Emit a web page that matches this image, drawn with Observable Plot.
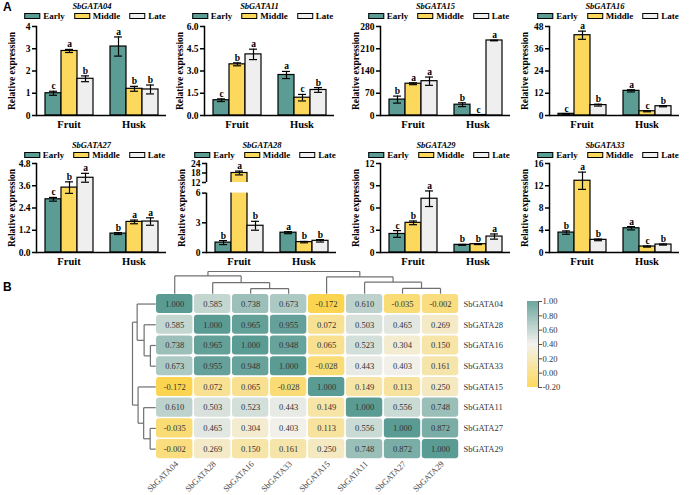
<!DOCTYPE html>
<html><head><meta charset="utf-8">
<script src="https://cdn.jsdelivr.net/npm/d3@7"></script>
<script src="https://cdn.jsdelivr.net/npm/@observablehq/plot@0.6"></script>
<style>
body{margin:0;background:#fff;}
#fig{position:relative;width:692px;height:495px;overflow:hidden;font-family:"Liberation Serif",serif;color:#000;}
.title{position:absolute;transform:translate(-50%,-50%);font-weight:bold;font-style:italic;font-size:8.5px;line-height:9px;white-space:nowrap;}
.legend{position:absolute;transform:translate(-50%,-50%);display:flex;align-items:center;font-weight:bold;font-size:9px;line-height:10px;white-space:nowrap;}
.sw{display:inline-block;width:14px;height:4px;border:1.3px solid #000;margin-right:3px;}
.lab{margin-right:9px;}
.lab:last-child{margin-right:0;}
.tag{position:absolute;font-family:"Liberation Sans",Arial,sans-serif;font-weight:bold;font-size:12px;}
svg{overflow:visible;}
</style>
</head><body><div id="fig"></div>
<script>
// ---------- data ----------
const tissues = ["Fruit", "Husk"];
const stages = ["Early", "Middle", "Late"];
const stageColors = ["#5b9d95", "#fcd95d", "#efefef"];

const gata04Values = [1.0, 2.9, 1.65, 3.1, 1.2, 1.17];
const gata04Errors = [0.09, 0.07, 0.13, 0.43, 0.11, 0.2];
const gata04Letters = ["c", "a", "b", "a", "b", "b"];
const gata04Ticks = [0, 1, 2, 3, 4];

const gata11Values = [1.03, 3.45, 4.12, 2.73, 1.2, 1.72];
const gata11Errors = [0.09, 0.1, 0.35, 0.24, 0.22, 0.16];
const gata11Letters = ["c", "b", "a", "a", "c", "b"];
const gata11Ticks = [0, 1.5, 3, 4.5, 6];

const gata15Values = [50, 100, 108, 34, 1.5, 236];
const gata15Errors = [11, 3, 13, 6, 0.5, 1];
const gata15Letters = ["b", "a", "a", "b", "c", "a"];
const gata15Ticks = [0, 70, 140, 210, 280];

const gata16Values = [0.9, 43.3, 5.6, 13.3, 2.3, 5.0];
const gata16Errors = [0.15, 2.2, 0.5, 0.6, 0.3, 0.3];
const gata16Letters = ["c", "a", "b", "a", "c", "b"];
const gata16Ticks = [0, 12, 24, 36, 48];

const gata27Values = [2.87, 3.5, 4.03, 1.02, 1.65, 1.67];
const gata27Errors = [0.1, 0.31, 0.24, 0.05, 0.1, 0.2];
const gata27Letters = ["c", "b", "a", "b", "a", "a"];
const gata27Ticks = [0, 1.2, 2.4, 3.6, 4.8];

const gata28Values = [1.0, 18, 2.7, 2.0, 1.05, 1.18];
const gata28Errors = [0.2, 1.2, 0.45, 0.1, 0.07, 0.12];
const gata28Letters = ["b", "a", "b", "a", "b", "b"];
const gata28Ticks = [0, 3, 6, 12, 18, 24];
const gata28Break = [6, 12];

const gata29Values = [2.5, 4.0, 7.25, 1.03, 1.12, 2.15];
const gata29Errors = [0.45, 0.25, 1.05, 0.06, 0.05, 0.35];
const gata29Letters = ["c", "b", "a", "b", "b", "a"];
const gata29Ticks = [0, 3, 6, 9, 12];

const gata33Values = [3.58, 12.9, 2.27, 4.36, 1.07, 1.43];
const gata33Errors = [0.3, 1.55, 0.15, 0.3, 0.1, 0.1];
const gata33Letters = ["b", "a", "b", "a", "c", "b"];
const gata33Ticks = [0, 4, 8, 12, 16];

// correlation heatmap
const genes = ["SbGATA04", "SbGATA28", "SbGATA16", "SbGATA33", "SbGATA15", "SbGATA11", "SbGATA27", "SbGATA29"];
const r04 = [1.000, 0.585, 0.738, 0.673, -0.172, 0.610, -0.035, -0.002];
const r28 = [0.585, 1.000, 0.965, 0.955, 0.072, 0.503, 0.465, 0.269];
const r16 = [0.738, 0.965, 1.000, 0.948, 0.065, 0.523, 0.304, 0.150];
const r33 = [0.673, 0.955, 0.948, 1.000, -0.028, 0.443, 0.403, 0.161];
const r15 = [-0.172, 0.072, 0.065, -0.028, 1.000, 0.149, 0.113, 0.250];
const r11 = [0.610, 0.503, 0.523, 0.443, 0.149, 1.000, 0.556, 0.748];
const r27 = [-0.035, 0.465, 0.304, 0.403, 0.113, 0.556, 1.000, 0.872];
const r29 = [-0.002, 0.269, 0.150, 0.161, 0.250, 0.748, 0.872, 1.000];
const corrMatrix = [r04, r28, r16, r33, r15, r11, r27, r29];
// hierarchical clustering: [left, right, merge height]
const dendroTree = [["SbGATA04", ["SbGATA28", ["SbGATA16", "SbGATA33", 0.23], 0.5], 0.8],
                    ["SbGATA15", ["SbGATA11", ["SbGATA27", "SbGATA29", 0.24], 0.52], 0.76], 1];
const heatDomain = [-0.2, 0.4, 1.0];
const heatColors = ["#fdd448", "#f2f0eb", "#5a9b93"];
const colorbarTicks = [-0.2, 0, 0.2, 0.4, 0.6, 0.8, 1.0];

// ---------- layout ----------
const fig = document.getElementById("fig");
function place(el, left, top) {
  el.style.position = "absolute"; el.style.left = left + "px"; el.style.top = top + "px";
  fig.appendChild(el); return el;
}
const fmt1 = d => d.toFixed(1);
const fmt0 = d => String(d);
const panels = [
  {gene: "SbGATA04", v: gata04Values, e: gata04Errors, l: gata04Letters, t: gata04Ticks, f: fmt0, ax: 36, row: 0},
  {gene: "SbGATA11", v: gata11Values, e: gata11Errors, l: gata11Letters, t: gata11Ticks, f: fmt1, ax: 203.5, row: 0},
  {gene: "SbGATA15", v: gata15Values, e: gata15Errors, l: gata15Letters, t: gata15Ticks, f: fmt0, ax: 379.5, row: 0},
  {gene: "SbGATA16", v: gata16Values, e: gata16Errors, l: gata16Letters, t: gata16Ticks, f: fmt0, ax: 549, row: 0},
  {gene: "SbGATA27", v: gata27Values, e: gata27Errors, l: gata27Letters, t: gata27Ticks, f: fmt1, ax: 35.5, row: 1},
  {gene: "SbGATA28", v: gata28Values, e: gata28Errors, l: gata28Letters, t: gata28Ticks, f: fmt0, ax: 206, row: 1, brk: gata28Break},
  {gene: "SbGATA29", v: gata29Values, e: gata29Errors, l: gata29Letters, t: gata29Ticks, f: fmt0, ax: 380, row: 1},
  {gene: "SbGATA33", v: gata33Values, e: gata33Errors, l: gata33Letters, t: gata33Ticks, f: fmt0, ax: 549, row: 1}
];
const rowFrameTop = [26, 163.3];
const rowTitleY = [5.5, 145];
const rowLegendY = [16, 155];

const H = 89, MT = 14, MB = 20, ML = 36, MR = 6, W = 130;

function barPanel(p) {
  const data = tissues.flatMap((t, ti) => stages.map((s, si) => ({
    tissue: t, stage: s, value: p.v[ti * 3 + si], err: p.e[ti * 3 + si], letter: p.l[ti * 3 + si]
  })));
  const top = p.t[p.t.length - 1];
  const y = p.brk
    ? {type: "linear", domain: [0, p.brk[0], p.brk[1], top], range: [MT + H, MT + H - 59.4, MT + H - 70, MT]}
    : {domain: [0, top]};
  const marks = [
    Plot.barY(data, {fx: "tissue", x: "stage", y: "value", fill: "stage", stroke: "#000", strokeWidth: 1.2}),
    Plot.ruleX(data, {fx: "tissue", x: "stage", y1: d => d.value - d.err, y2: d => d.value + d.err, stroke: "#000", strokeWidth: 1.2}),
    Plot.tickY(data, {fx: "tissue", x: "stage", y: d => d.value + d.err, insetLeft: 4, insetRight: 4, stroke: "#000", strokeWidth: 1.2}),
    Plot.tickY(data, {fx: "tissue", x: "stage", y: d => d.value - d.err, insetLeft: 4, insetRight: 4, stroke: "#000", strokeWidth: 1.2}),
    Plot.text(data, {fx: "tissue", x: "stage", y: d => d.value + d.err, text: "letter", lineAnchor: "bottom", dy: -2, fontSize: 9.5}),
    Plot.ruleY([0], {strokeWidth: 1.5}),
    Plot.frame({anchor: "left", facetAnchor: "left", strokeWidth: 1.5})
  ];
  if (p.brk) marks.push(Plot.rect([p.brk], {y1: d => d[0], y2: d => d[1], fill: "#fff", insetLeft: -3, facetAnchor: "left"}));
  marks.push(
    Plot.axisY({ticks: p.t, tickFormat: p.f, tickSize: 4, tickPadding: 2, strokeWidth: 1.5, fontSize: 9.5,
      label: "Relative expression", labelAnchor: "center", labelOffset: 28, labelArrow: false}),
    Plot.axisFx({anchor: "bottom", tickSize: 0, tickPadding: 5, fontSize: 10.5, label: null})
  );
  return Plot.plot({
    width: ML + W + MR, height: MT + H + MB,
    marginLeft: ML, marginRight: MR, marginTop: MT, marginBottom: MB,
    style: {fontFamily: "Liberation Serif", fontWeight: "bold", fontSize: "10px", background: "transparent", color: "#000"},
    fx: {domain: tissues, padding: 0},
    x: {domain: stages, paddingInner: 0, paddingOuter: 0.45, axis: null},
    y,
    color: {domain: stages, range: stageColors},
    marks
  });
}

for (const p of panels) {
  const svg = barPanel(p);
  place(svg, p.ax - ML, rowFrameTop[p.row] - MT);
  const t = document.createElement("div");
  t.className = "title"; t.textContent = p.gene;
  place(t, p.ax + 56, rowTitleY[p.row]);
  const lg = document.createElement("div");
  lg.className = "legend";
  stages.forEach((s, i) => {
    const sw = document.createElement("span"); sw.className = "sw"; sw.style.background = stageColors[i];
    const lb = document.createElement("span"); lb.className = "lab"; lb.textContent = s;
    lg.appendChild(sw); lg.appendChild(lb);
  });
  place(lg, p.ax + 59, rowLegendY[p.row]);
}

// ---------- heatmap ----------
const n = genes.length;
const TOP = 1.07, LEFT = 0.612;
const cells = genes.flatMap((g, r) => corrMatrix[r].map((v, c) => ({row: r, col: c, value: v})));
function layoutTree(node, segs) {
  if (typeof node === "string") return {pos: genes.indexOf(node) + 0.5, h: 0};
  const [a, b, h] = node;
  const A = layoutTree(a, segs), B = layoutTree(b, segs);
  segs.push({p1: A.pos, h1: A.h, p2: A.pos, h2: h});
  segs.push({p1: B.pos, h1: B.h, p2: B.pos, h2: h});
  segs.push({p1: A.pos, h1: h, p2: B.pos, h2: h});
  return {pos: (A.pos + B.pos) / 2, h};
}
const segs = [];
layoutTree(dendroTree, segs);

const heat = Plot.plot({
  width: 510, height: 233, marginLeft: 132, marginRight: 51, marginTop: 9, marginBottom: 36,
  x: {domain: [-LEFT, n], axis: null},
  y: {domain: [-TOP, n], reverse: true, axis: null},
  color: {type: "linear", domain: heatDomain, range: heatColors},
  style: {fontFamily: "Liberation Serif", background: "transparent"},
  marks: [
    Plot.rect(cells, {x1: "col", x2: d => d.col + 1, y1: "row", y2: d => d.row + 1, fill: "value", inset: 0.8, rx: 3}),
    Plot.text(cells, {x: d => d.col + 0.5, y: d => d.row + 0.5, text: d => d.value.toFixed(3), fontSize: 8.5, fill: "#333"}),
    Plot.text(genes, {x: n, y: (d, i) => i + 0.5, text: d => d, textAnchor: "start", dx: 4, fontSize: 8.5, fill: "#333"}),
    Plot.text(genes, {x: (d, i) => i + 0.5, y: n, text: d => d, rotate: -45, textAnchor: "end", dx: 2, dy: 3, fontSize: 8.5, fill: "#444"}),
    Plot.link(segs, {x1: "p1", x2: "p2", y1: d => -d.h1 * TOP, y2: d => -d.h2 * TOP, stroke: "#707070", strokeWidth: 1.2}),
    Plot.link(segs, {y1: "p1", y2: "p2", x1: d => -d.h1 * LEFT, x2: d => -d.h2 * LEFT, stroke: "#707070", strokeWidth: 1.2})
  ]
});
place(heat, 0, 262);

// colorbar
const rampStep = 0.005;
const ramp = d3.range(heatDomain[0], heatDomain[2], rampStep);
const bar = Plot.plot({
  width: 45, height: 98, marginLeft: 0, marginRight: 34, marginTop: 6, marginBottom: 6,
  y: {domain: [heatDomain[0], heatDomain[2]]},
  color: {type: "linear", domain: heatDomain, range: heatColors},
  style: {fontFamily: "Liberation Serif", background: "transparent", color: "#333"},
  marks: [
    Plot.rect(ramp, {y1: d => d, y2: d => Math.min(d + rampStep * 1.6, heatDomain[2]), fill: d => d + rampStep / 2}),
    Plot.frame({anchor: "right", stroke: "#555"}),
    Plot.axisY({anchor: "right", ticks: colorbarTicks, tickFormat: d => d.toFixed(2), tickSize: 3, tickPadding: 1, fontSize: 8.5, label: null, stroke: "#555"})
  ]
});
place(bar, 527, 295);

const A = document.createElement("div"); A.className = "tag"; A.textContent = "A"; place(A, 3, 0);
const B = document.createElement("div"); B.className = "tag"; B.textContent = "B"; place(B, 3, 280);
</script>
</body></html>
